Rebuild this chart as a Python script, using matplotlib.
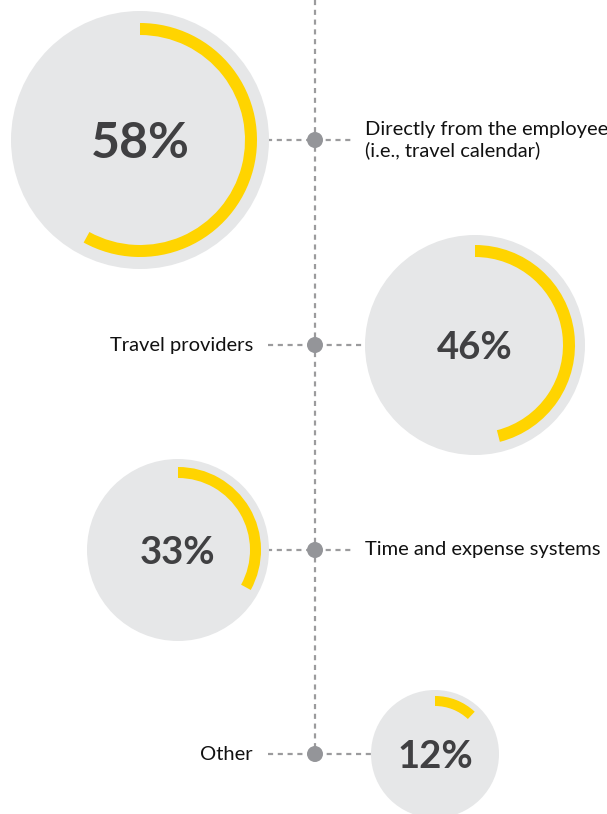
import matplotlib
matplotlib.use("Agg")
import matplotlib.pyplot as plt
from matplotlib.patches import Circle, Wedge

# Survey results: where travel data is sourced
labels = ["Directly from the employee\n(i.e., travel calendar)",
          "Travel providers",
          "Time and expense systems",
          "Other"]
values = [58, 46, 33, 12]

# Layout (pixel space, y grows downward)
W, H = 607, 814
spine_x = 315
row_y = [140, 345, 550, 754]
circle_x = [140, 475, 178, 435]
circle_r = [129, 110, 91, 64]
ring_outer = [117, 100, 83, 58]
ring_width = [12, 12, 11, 10]
circle_side = ["left", "right", "left", "right"]
pct_size = [36, 27.5, 27.5, 27.5]

GREY_BG = "#e6e7e8"
YELLOW = "#ffd400"
DASH = "#9b9b9d"
DOT = "#949599"
DARK = "#404042"
INK = "#111111"

fig = plt.figure(figsize=(W / 100, H / 100), dpi=100)
ax = fig.add_axes([0, 0, 1, 1])
ax.set_xlim(0, W)
ax.set_ylim(H, 0)
ax.axis("off")

dash_style = dict(color=DASH, linewidth=1.6, linestyle=(0, (2.3, 2.1)),
                  solid_capstyle="butt", dash_capstyle="butt")

# vertical spine
ax.plot([spine_x, spine_x], [0, row_y[-1]], zorder=1, **dash_style)

for lab, v, y, cx, r, ro, rw, side, fs in zip(labels, values, row_y, circle_x,
                                               circle_r, ring_outer, ring_width,
                                               circle_side, pct_size):
    # horizontal connector
    if side == "left":
        x0, x1 = cx + r - 2, spine_x + 38
        tx, ha = spine_x + 50, "left"
    else:
        x0, x1 = spine_x - 47, cx - r + 2
        tx, ha = spine_x - 62, "right"
    ax.plot([x0, x1], [y, y], zorder=1, **dash_style)
    ax.add_patch(Circle((spine_x, y), 8, facecolor=DOT, edgecolor="none", zorder=3))

    # bubble with progress ring (clockwise from 12 o'clock)
    ax.add_patch(Circle((cx, y), r, facecolor=GREY_BG, edgecolor="none", zorder=2))
    ax.add_patch(Wedge((cx, y), ro, -90, -90 + 360 * v / 100, width=rw,
                       facecolor=YELLOW, edgecolor="none", zorder=3))
    ax.text(cx, y, f"{v}%", ha="center", va="center_baseline", fontsize=fs,
            fontweight="bold", color=DARK, family="Lato", zorder=4)

    ax.text(tx, y, lab, ha=ha, va="center", fontsize=14.5, color=INK,
            family="Lato", linespacing=1.2, zorder=4)

fig.savefig("out.png", dpi=100)
